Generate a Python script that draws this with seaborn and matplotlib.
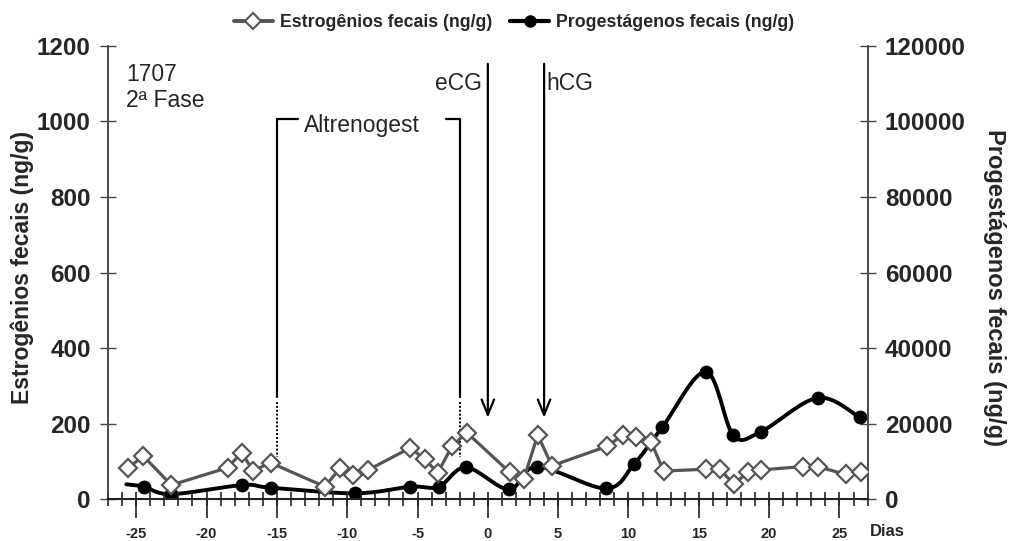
import numpy as np
import pandas as pd
import seaborn as sns
import matplotlib
matplotlib.use("Agg")
from matplotlib import pyplot as plt
from matplotlib.lines import Line2D
from matplotlib.ticker import MultipleLocator

# dias relativos e valores
estro_dias = [-25.6, -24.5, -22.5, -18.5, -17.5, -16.7, -15.45, -11.6, -10.5, -9.6, -8.5,
              -5.5, -4.5, -3.55, -2.55, -1.5, 1.55, 2.55, 3.55, 4.55, 8.5, 9.6, 10.5,
              11.6, 12.5, 15.5, 16.5, 17.5, 18.5, 19.4, 22.4, 23.45, 25.45, 26.5]
estro_val = [81, 114, 37, 83, 123, 75, 96, 33, 81, 64, 77,
             136, 105, 70, 140, 176, 71, 52, 170, 88, 140, 170, 165,
             152, 74, 79, 79, 39, 72, 77, 86, 86, 65, 71]

prog_dias = [-25.7, -24.45, -22.5, -17.45, -15.45, -9.45, -5.5, -3.5, -1.55, 1.5, 3.5,
             8.4, 10.4, 12.4, 15.5, 17.45, 19.4, 23.45, 26.45]
prog_val = [3900, 3260, 1300, 3700, 3000, 1500, 3260, 3260, 8400, 2570, 8560,
            2800, 9270, 19000, 33700, 16950, 17800, 26800, 21600]

x_ticks = [-25, -20, -15, -10, -5, 0, 5, 10, 15, 20, 25]

estro = pd.DataFrame({"dia": estro_dias, "valor": estro_val})
prog = pd.DataFrame({"dia": prog_dias, "valor": prog_val})


def suaviza(x, y, n=20):
    # curva suavizada tipo Excel (bezier com pontos de controle a 1/6)
    x = np.asarray(x, float)
    y = np.asarray(y, float)
    px = np.concatenate([[x[0]], x, [x[-1]]])
    py = np.concatenate([[y[0]], y, [y[-1]]])
    t = np.linspace(0, 1, n)
    xs, ys = [], []
    for i in range(1, len(px) - 2):
        c1x = px[i] + (px[i + 1] - px[i - 1]) / 6
        c1y = py[i] + (py[i + 1] - py[i - 1]) / 6
        c2x = px[i + 1] - (px[i + 2] - px[i]) / 6
        c2y = py[i + 1] - (py[i + 2] - py[i]) / 6
        b = [(1 - t) ** 3, 3 * (1 - t) ** 2 * t, 3 * (1 - t) * t ** 2, t ** 3]
        xs.append(b[0] * px[i] + b[1] * c1x + b[2] * c2x + b[3] * px[i + 1])
        ys.append(b[0] * py[i] + b[1] * c1y + b[2] * c2y + b[3] * py[i + 1])
    return np.concatenate(xs), np.concatenate(ys)


sns.set_style("ticks")
plt.rcParams["font.family"] = ["Liberation Sans", "DejaVu Sans"]

fig = plt.figure(figsize=(10.1, 5.41), dpi=100)
ax = fig.add_axes([0.107, 0.0776, 0.752, 0.8374])
ax2 = ax.twinx()

cinza = "#555555"
sns.lineplot(data=estro, x="dia", y="valor", ax=ax, color=cinza, linewidth=2.3,
             marker="D", markersize=9, markerfacecolor="white", markeredgecolor=cinza,
             markeredgewidth=1.6, zorder=3)

sx, sy = suaviza(prog["dia"], prog["valor"])
sns.lineplot(x=sx, y=sy, ax=ax2, color="black", linewidth=2.8, sort=False, zorder=2)
sns.scatterplot(data=prog.iloc[1:], x="dia", y="valor", ax=ax2, color="black",
                s=85, edgecolor="black", zorder=3)

ax.set_zorder(ax2.get_zorder() + 1)
ax.patch.set_visible(False)

ax.set_xlim(-27, 27)
ax.set_ylim(0, 1200)
ax2.set_ylim(0, 120000)
ax.set_xticks(x_ticks)
ax.set_xticklabels([str(v) for v in x_ticks], fontsize=10.5, fontweight="bold")
ax.xaxis.set_minor_locator(MultipleLocator(1))
ax.xaxis.remove_overlapping_locs = False
ax.tick_params(axis="x", which="major", direction="out", length=14, width=1.2, pad=6, color="#222222")
ax.tick_params(axis="x", which="minor", direction="inout", length=10, width=1.2, color="#222222")

ax.set_yticks(range(0, 1201, 200))
ax.tick_params(axis="y", direction="inout", length=11, width=1, pad=7, labelsize=17.5, color="#444444")
for lb in ax.get_yticklabels():
    lb.set_fontweight("bold")
ax2.set_yticks(range(0, 120001, 20000))
ax2.tick_params(axis="y", direction="inout", length=11, width=1, pad=7, labelsize=17.5, color="#444444")
for lb in ax2.get_yticklabels():
    lb.set_fontweight("bold")

for a in (ax, ax2):
    a.spines["top"].set_visible(False)
    for s in ("left", "right", "bottom"):
        a.spines[s].set_color("#444444")
        a.spines[s].set_linewidth(1.1)
ax.spines["bottom"].set_linewidth(1.5)
ax.spines["bottom"].set_color("#222222")

ax.set_xlabel("")
ax.set_ylabel("Estrogênios fecais (ng/g)", fontsize=16.5, fontweight="bold")
ax.yaxis.set_label_coords(-0.097, 0.511)
ax2.set_ylabel("Progestágenos fecais (ng/g)", fontsize=17, fontweight="bold", rotation=270)
ax2.yaxis.set_label_coords(1.182, 0.467)

fig.text(887 / 1010, 1 - 531 / 541, "Dias", fontsize=12, fontweight="bold", ha="center", va="center")

# anotacoes
ax.text(-25.7, 1125, "1707", fontsize=16.5, va="center")
ax.text(-25.7, 1055, "2ª Fase", fontsize=16.5, va="center")

for xv, xh in ((-15, -13.5), (-2, -3.0)):
    ax.plot([xh, xv, xv], [1007, 1007, 270], color="black", lw=1.6)
    ax.plot([xv, xv], [257, 111], color="black", lw=1.4, ls=(0, (1, 1)))
ax.text(-13.1, 990, "Altrenogest", fontsize=16.5, va="center")

for xv in (0, 4):
    ax.annotate("", xy=(xv, 208), xytext=(xv, 1160),
                arrowprops=dict(arrowstyle="->,head_length=1.1,head_width=0.45", color="black", lw=1.6))
ax.text(-0.4, 1100, "eCG", fontsize=16.5, va="center", ha="right")
ax.text(4.15, 1100, "hCG", fontsize=16.5, va="center", ha="left")

handles = [
    Line2D([], [], color=cinza, lw=2.8, marker="D", markersize=8, markerfacecolor="white",
           markeredgecolor=cinza, markeredgewidth=1.5),
    Line2D([], [], color="black", lw=3, marker="o", markersize=8),
]
fig.legend(handles, ["Estrogênios fecais (ng/g)", "Progestágenos fecais (ng/g)"],
           loc="center", bbox_to_anchor=(0.509, 0.958), ncol=2, frameon=False,
           prop={"weight": "bold", "size": 12.8}, handlelength=2.2, columnspacing=1.0,
           handletextpad=0.4)

fig.savefig("out.png", dpi=100)
